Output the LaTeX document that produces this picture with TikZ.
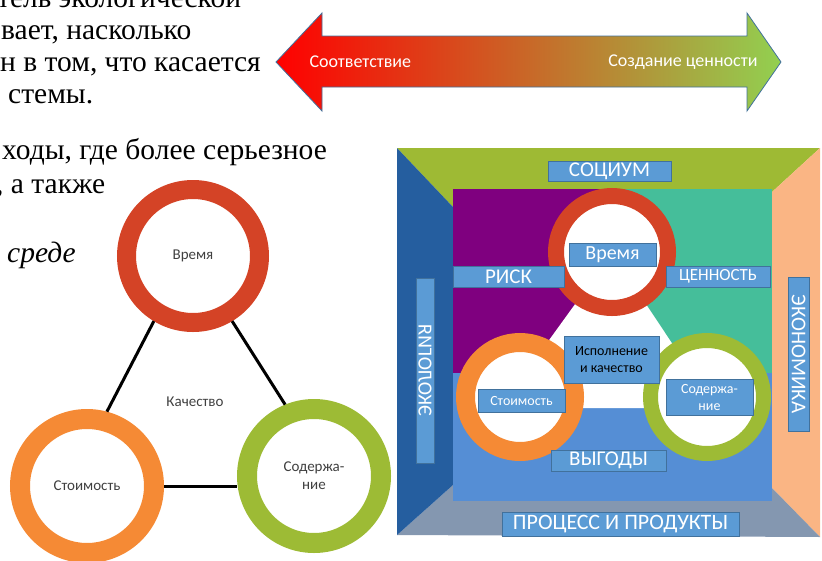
\documentclass[tikz,border=0pt]{standalone}
\usepackage{fontspec}
\setmainfont{Liberation Serif}
\newfontfamily\timesfont{Liberation Serif}
\newfontfamily\calibri{Carlito}
\usetikzlibrary{calc}

\definecolor{ringred}{RGB}{212,67,38}
\definecolor{ringorange}{RGB}{245,138,53}
\definecolor{ringgreen}{RGB}{157,187,53}
\definecolor{sidegreen}{RGB}{158,186,52}
\definecolor{sideblue}{RGB}{37,94,159}
\definecolor{sidepeach}{RGB}{250,181,132}
\definecolor{sidegrey}{RGB}{132,151,176}
\definecolor{fieldpurple}{RGB}{127,0,127}
\definecolor{fieldteal}{RGB}{69,190,154}
\definecolor{fieldblue}{RGB}{85,142,213}
\definecolor{boxblue}{RGB}{91,155,213}
\definecolor{boxline}{RGB}{65,113,156}
\definecolor{arrowred}{RGB}{255,0,0}
\definecolor{arrowgreen}{RGB}{146,208,80}
\definecolor{labelgrey}{RGB}{64,64,64}

\begin{document}
\begin{tikzpicture}[x=1pt,y=-1pt,
  prose/.style={anchor=base west,inner sep=0pt,font=\timesfont\fontsize{29.5}{32}\selectfont},
  ring/.style={circle,fill=white,inner sep=0pt,align=center,text=labelgrey,font=\calibri\fontsize{15}{18}\selectfont},
  lbl/.style={fill=boxblue,draw=boxline,line width=1pt,inner sep=0pt,align=center,text=white},
  link/.style={line width=3pt,black}]
  \useasboundingbox (0,0) rectangle (822,560);
  \clip (0,0) rectangle (822,560);

  \node[prose] (W1) at (-3,7) {тель экологической};
  \node[prose] (W2) at (1,39) {вает, насколько};
  \node[prose] (W3) at (0,71) {н в том, что касается};
  \node[prose] (W4) at (8,103) {стемы.};
  \node[prose] (W5) at (2,159) {ходы, где более серьезное};
  \node[prose] (W6) at (-4,193) {, а также};
  \node[prose,font=\timesfont\itshape\fontsize{29.5}{32}\selectfont] (W7) at (7,262) {среде};

  \coordinate (A1) at (276,62);
  \coordinate (A2) at (781,62);
  \shade[left color=arrowred,right color=arrowgreen,draw=boxline,line width=0.8pt]
    (A1) -- (322,13) -- (322,36) -- (747,36) -- (747,13) -- (A2)
    -- (747,111) -- (747,87) -- (322,87) -- (322,111) -- cycle;
  \node[anchor=west,text=white,font=\calibri\fontsize{18}{20}\selectfont] (Fit) at (306,62) {Соответствие};
  \node[anchor=east,text=white,font=\calibri\fontsize{18}{20}\selectfont] (Val) at (761,62) {Создание ценности};

  \node[ring,draw=ringred,line width=19pt,minimum size=133pt] (T1) at (193,256) {Время};
  \node[ring,draw=ringorange,line width=20pt,minimum size=134pt] (C1) at (87,486) {Стоимость};
  \node[ring,draw=ringgreen,line width=20pt,minimum size=134pt] (S1) at (314,476) {Содержа-\\ние};
  \node[text=labelgrey,font=\calibri\fontsize{15}{18}\selectfont] (Q1) at (195,402) {Качество};
  \draw[link] (T1.239) -- (C1.75);
  \draw[link] (T1.301) -- (S1.112);
  \draw[link] (C1.east) -- (C1.east -| S1.west);

  \coordinate (O1) at (397,148);
  \coordinate (O2) at (820,148);
  \coordinate (O3) at (820,537);
  \coordinate (O4) at (397,535);
  \coordinate (I1) at (453,207);
  \coordinate (I2) at (772,192);
  \coordinate (I3) at (772,488);
  \coordinate (I4) at (453,485);
  \path[fill=sidegreen] (O1) -- (O2) -- (I2) -- (I1) -- cycle;
  \path[fill=sidepeach] (O2) -- (O3) -- (I3) -- (I2) -- cycle;
  \path[fill=sidegrey] (O3) -- (O4) -- (I4) -- (I3) -- cycle;
  \path[fill=sideblue] (O4) -- (O1) -- (I1) -- (I4) -- cycle;
  \path[fill=fieldpurple] (453,189) rectangle (612,373);
  \path[fill=fieldteal] (612,189) rectangle (772,373);
  \path[fill=fieldblue] (453,373) rectangle (772,501);
  \path[fill=white] (612,253) -- (715,408) -- (500,408) -- cycle;

  \node[ring,draw=ringred,line width=16pt,minimum size=112pt] (T2) at (612,252) {};
  \node[ring,draw=ringorange,line width=19pt,minimum size=109pt] (C2) at (520,397) {};
  \node[ring,draw=ringgreen,line width=15pt,minimum size=113pt] (S2) at (707,397) {};

  \node[lbl,minimum width=123pt,minimum height=20pt,font=\calibri\fontsize{21}{24}\selectfont] (Soc) at (609.5,171) {СОЦИУМ};
  \node[lbl,minimum width=111pt,minimum height=21pt,font=\calibri\fontsize{21}{24}\selectfont] (Risk) at (508.5,276.5) {РИСК};
  \node[lbl,minimum width=87pt,minimum height=23pt,font=\calibri\fontsize{20}{24}\selectfont] (T3) at (612.5,254.5) {Время};
  \node[lbl,minimum width=104pt,minimum height=21pt,font=\calibri\fontsize{17}{20}\selectfont] (Val2) at (718,276.5) {ЦЕННОСТЬ};
  \node[lbl,minimum width=95pt,minimum height=47pt,text=black,font=\calibri\fontsize{14}{17}\selectfont] (Perf) at (611.5,359.5) {Исполнение\\и качество};
  \node[lbl,minimum width=87pt,minimum height=23pt,font=\calibri\fontsize{14}{17}\selectfont] (C3) at (521.5,400.5) {Стоимость};
  \node[lbl,minimum width=87pt,minimum height=36pt,font=\calibri\fontsize{14}{17}\selectfont] (S3) at (709.5,397) {Содержа-\\ние};
  \node[lbl,minimum width=115pt,minimum height=21pt,font=\calibri\fontsize{21}{24}\selectfont] (Gain) at (608.5,460.5) {ВЫГОДЫ};
  \node[lbl,minimum width=237pt,minimum height=24pt,font=\calibri\fontsize{22}{24}\selectfont] (Proc) at (620.5,524) {ПРОЦЕСС И ПРОДУКТЫ};
  \node[lbl,minimum width=185pt,minimum height=18pt,rotate=-90,xscale=-1,font=\calibri\fontsize{20}{22}\selectfont] (Eco) at (425,370.5) {ЭКОЛОГИЯ};
  \node[lbl,minimum width=154pt,minimum height=21pt,rotate=-90,font=\calibri\fontsize{21}{24}\selectfont] (Econ) at (798.5,354) {ЭКОНОМИКА};
\end{tikzpicture}
\end{document}
